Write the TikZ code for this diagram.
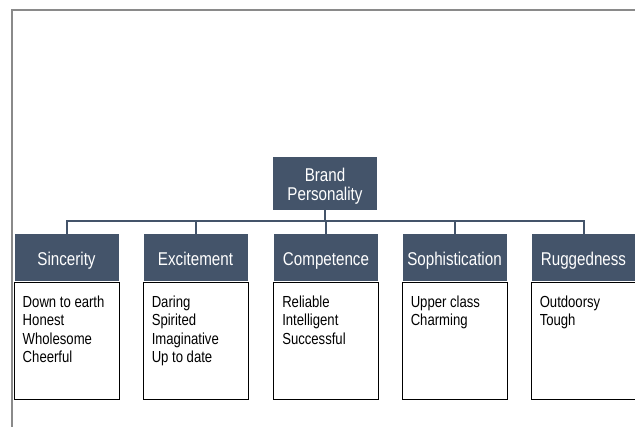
\documentclass[tikz,border=0pt]{standalone}
\usepackage{fontspec}
\setmainfont{Liberation Sans}[FakeStretch=0.82]
\usetikzlibrary{backgrounds}
\definecolor{slate}{HTML}{44546A}
\definecolor{halo}{HTML}{E4E4E4}
\definecolor{framegray}{HTML}{8A8A8A}
\tikzset{
  headbox/.style={rectangle, fill=slate, text=white, inner sep=0pt,
    minimum width=104pt, minimum height=47.5pt, align=center,
    font=\fontsize{18.5}{18.3}\selectfont},
  headtext/.style={text height=16pt, text depth=0pt},
  bodybox/.style={rectangle, draw=black, fill=white, line width=0.9pt,
    inner sep=0pt, minimum width=105pt, minimum height=117.5pt},
  listtext/.style={inner sep=0pt, align=left, text=black,
    font=\fontsize{16}{18.4}\selectfont},
  conn/.style={draw=slate, line width=2pt},
  framel/.style={draw=framegray, line width=1.3pt},
}
\begin{document}
\begin{tikzpicture}[x=1pt,y=-1pt]
\useasboundingbox (0,0) rectangle (635,427);
\clip (0,0) rectangle (635,427);
\fill[white] (0,0) rectangle (635,427);

% page frame
\draw[framel] (635,10) -- (12,10) -- (12,427);

% root (the strut lowers the two lines a little inside the box)
\node[headbox, minimum height=53pt] (brand) at (325,183.5) {\rule{0pt}{19pt}Brand\\Personality};

% category headers
\node[headbox, headtext] (h1) at (66.5,257.75) {Sincerity};
\node[headbox, headtext] (h2) at (195.5,257.75) {Excitement};
\node[headbox, headtext] (h3) at (326,257.75) {Competence};
\node[headbox, headtext] (h4) at (454.5,257.75) {Sophistication};
\node[headbox, headtext] (h5) at (583.5,257.75) {Ruggedness};

% soft frame behind the dark boxes
\begin{scope}[on background layer]
  \fill[halo] ([shift={(-3,-2.5)}]brand.north west) rectangle ([shift={(3,3)}]brand.south east);
  \foreach \n in {h1,h2,h3,h4,h5}
    \fill[halo] ([shift={(-2,-2)}]\n.north west) rectangle ([shift={(3,6)}]\n.south east);
\end{scope}

% trait boxes
\foreach \i in {1,...,5}
  \node[bodybox, anchor=north] (b\i) at (h\i.south) {};

\node[listtext, anchor=north west] (t1) at ([shift={(9,13.8)}]b1.north west) {Down to earth\\Honest\\Wholesome\\Cheerful};
\node[listtext, anchor=north west] (t2) at ([shift={(9,13.8)}]b2.north west) {Daring\\Spirited\\Imaginative\\Up to date};
\node[listtext, anchor=north west] (t3) at ([shift={(9,13.8)}]b3.north west) {Reliable\\Intelligent\\Successful};
\node[listtext, anchor=north west] (t4) at ([shift={(9,13.8)}]b4.north west) {Upper class\\Charming};
\node[listtext, anchor=north west] (t5) at ([shift={(9,13.8)}]b5.north west) {Outdoorsy\\Tough};

% tree connectors
\coordinate (bus) at (325,221.5);
\foreach \i in {1,...,5}
  \draw[conn] (brand.south) -- (bus) -| (h\i.north);
\end{tikzpicture}
\end{document}
